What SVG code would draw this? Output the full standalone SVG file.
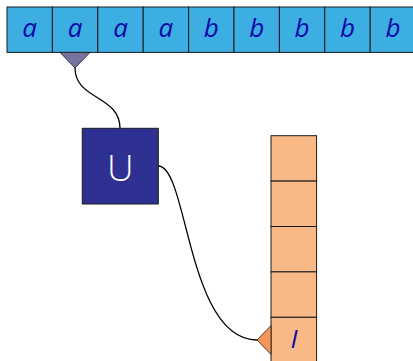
<svg xmlns="http://www.w3.org/2000/svg" width="413" height="361" viewBox="0 0 413 361">
<style>
.tc{fill:#3daee2;stroke:#1a1a1a;stroke-width:1}
.oc{fill:#f9b986;stroke:#1a1a1a;stroke-width:1}
.lbl{font-family:"Open Sans","DejaVu Sans",sans-serif;font-style:italic;font-size:26px;fill:#0a0aa8;text-anchor:middle}
.wire{fill:none;stroke:#000;stroke-width:1.3}
</style>
<rect width="413" height="361" fill="#fff"/>
<g id="tape">
<rect class="tc" x="7" y="7" width="45.4" height="45.4"/>
<rect class="tc" x="52.4" y="7" width="45.4" height="45.4"/>
<rect class="tc" x="97.8" y="7" width="45.4" height="45.4"/>
<rect class="tc" x="143.2" y="7" width="45.4" height="45.4"/>
<rect class="tc" x="188.6" y="7" width="45.4" height="45.4"/>
<rect class="tc" x="234" y="7" width="45.4" height="45.4"/>
<rect class="tc" x="279.4" y="7" width="45.4" height="45.4"/>
<rect class="tc" x="324.8" y="7" width="45.4" height="45.4"/>
<rect class="tc" x="370.2" y="7" width="45.4" height="45.4"/>
<text class="lbl" x="29.7" y="37">a</text>
<text class="lbl" x="75.1" y="37">a</text>
<text class="lbl" x="120.5" y="37">a</text>
<text class="lbl" x="165.9" y="37">a</text>
<text class="lbl" x="211.3" y="37">b</text>
<text class="lbl" x="256.7" y="37">b</text>
<text class="lbl" x="302.1" y="37">b</text>
<text class="lbl" x="347.5" y="37">b</text>
<text class="lbl" x="392.9" y="37">b</text>
<polygon points="60,52.4 90,52.4 75,68" fill="#77739f" stroke="#1a1a1a" stroke-width="0.8"/>
</g>
<g id="U">
<rect x="82.3" y="128.3" width="76" height="75.7" fill="#2e3192" stroke="#1a1a1a" stroke-width="1"/>
<text x="120.3" y="180.5" font-family="'Open Sans','DejaVu Sans',sans-serif" font-weight="300" font-size="37" fill="#fff" text-anchor="middle">U</text>
</g>
<g id="stack">
<rect class="oc" x="271" y="135.7" width="45.6" height="45.4"/>
<rect class="oc" x="271" y="181.1" width="45.6" height="45.4"/>
<rect class="oc" x="271" y="226.5" width="45.6" height="45.4"/>
<rect class="oc" x="271" y="271.9" width="45.6" height="45.4"/>
<rect class="oc" x="271" y="317.3" width="45.6" height="45.4"/>
<text class="lbl" x="294" y="348">I</text>
<polygon points="257,340 271,325.5 271,354.5" fill="#f4955a" stroke="#1a1a1a" stroke-width="0.8"/>
</g>
<g id="connectors">
<path class="wire" d="M75,68 C75,100 120,95 120,128.3"/>
<path class="wire" d="M158.3,166 C188,166 187,340 257,340"/>
</g>
</svg>
